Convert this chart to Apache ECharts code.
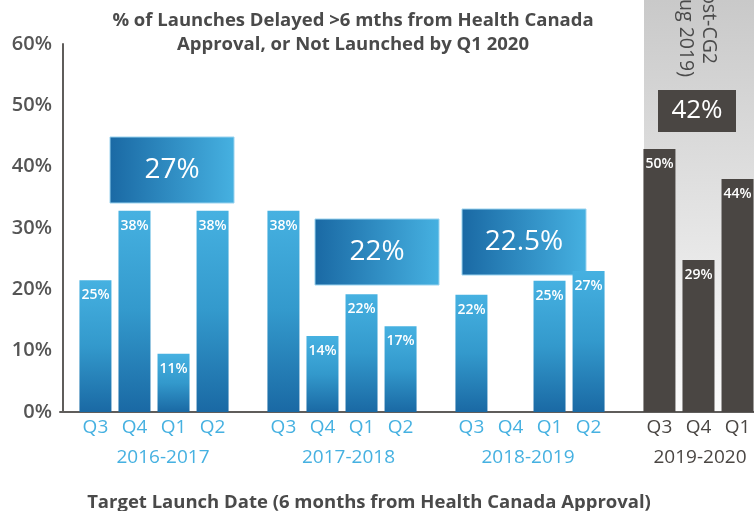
<!DOCTYPE html>
<html>
<head>
<meta charset="utf-8">
<script src="https://cdn.jsdelivr.net/npm/echarts@6/dist/echarts.min.js"></script>
<style>
  html, body { margin: 0; padding: 0; background: #fff; }
  #chart { width: 754px; height: 511px; }
</style>
</head>
<body>
<div id="chart"></div>
<script>
  // fiscal years (categories) and quarter slots inside each year
  const years = ['2016-2017', '2017-2018', '2018-2019', '2019-2020']
  const quarters = ['Q3', 'Q4', 'Q1', 'Q2']

  // bar heights as drawn (%), one array per quarter slot
  const q3Values = [21.5, 32.8, 19.1, 42.9]
  const q4Values = [32.8, 12.4, 0, 24.8]
  const q1Values = [9.5, 19.2, 21.4, 38.0]
  const q2Values = [32.8, 14.0, 23.0, null]

  // printed labels on the bars
  const q3Labels = ['25%', '38%', '22%', '50%']
  const q4Labels = ['38%', '14%', '', '29%']
  const q1Labels = ['11%', '22%', '25%', '44%']
  const q2Labels = ['38%', '17%', '27%', '']

  // average per year (boxes)
  const averages = ['27%', '22%', '22.5%', '42%']

  const yMin = 0
  const yMax = 60
  const yStep = 10

  const FONT = 'Open Sans'
  const BLUE_LIGHT = '#46b1e1'
  const BLUE_DARK = '#1a69a4'
  const DARK = '#4a4643'
  const TEXT = '#4a4a4a'

  const values = [q3Values, q4Values, q1Values, q2Values]
  const labels = [q3Labels, q4Labels, q1Labels, q2Labels]

  const barGradient = new echarts.graphic.LinearGradient(0, 0, 0, 1, [
    { offset: 0, color: BLUE_LIGHT },
    { offset: 0.5, color: '#3399cc' },
    { offset: 1, color: BLUE_DARK }
  ])
  const boxGradient = new echarts.graphic.LinearGradient(0, 0, 1, 0, [
    { offset: 0, color: BLUE_DARK },
    { offset: 1, color: BLUE_LIGHT }
  ])

  const series = []
  quarters.forEach((q, i) => {
    // zero-height helper carrying the quarter name under the axis
    series.push({
      type: 'bar',
      stack: 's' + i,
      barWidth: 32,
      barGap: '22%',
      silent: true,
      itemStyle: { color: 'transparent' },
      data: years.map((y, j) => {
        if (values[i][j] === null) return '-'
        return {
          value: 0,
          label: { color: j === 3 ? DARK : BLUE_LIGHT }
        }
      }),
      label: {
        show: true,
        position: 'bottom',
        distance: 6,
        formatter: () => q,
        fontFamily: FONT,
        fontSize: 19
      }
    })
    series.push({
      type: 'bar',
      stack: 's' + i,
      barWidth: 32,
      barGap: '22%',
      data: years.map((y, j) => {
        if (values[i][j] === null) return '-'
        return {
          value: values[i][j],
          itemStyle: { color: j === 3 ? DARK : barGradient }
        }
      }),
      label: {
        show: true,
        position: 'insideTop',
        distance: 8,
        color: '#fff',
        fontFamily: FONT,
        fontWeight: 600,
        fontSize: 14,
        formatter: (p) => labels[i][p.dataIndex]
      }
    })
  })

  function avgBox(x, y, w, h, text, dark) {
    return {
      type: 'group',
      x: x,
      y: y,
      z: 20,
      children: [
        {
          type: 'rect',
          shape: { x: 0, y: 0, width: w, height: h },
          style: dark
            ? { fill: DARK }
            : { fill: boxGradient, stroke: '#9ad3ef', lineWidth: 1 }
        },
        {
          type: 'text',
          x: w / 2,
          y: h / 2,
          style: {
            text: text,
            fill: '#fff',
            fontFamily: FONT,
            fontSize: dark ? 26 : 28,
            fontWeight: 500,
            align: 'center',
            verticalAlign: 'middle'
          }
        }
      ]
    }
  }

  // year labels sit a little off the category centres
  const yearRich = {
    y0: { padding: [0, 0, 0, 18] },
    y1: { padding: [0, 0, 0, 13] },
    y2: { padding: [0, 4, 0, 0] },
    y3: { padding: [0, 36, 0, 0], color: DARK }
  }

  const chart = echarts.init(document.getElementById('chart'))
  chart.setOption({
    animation: false,
    title: [
      {
        text: '% of Launches Delayed >6 mths from Health Canada\nApproval, or Not Launched by Q1 2020',
        left: 348,
        top: 4,
        textAlign: 'center',
        textStyle: {
          fontFamily: FONT,
          fontSize: 18.5,
          fontWeight: 'bold',
          color: TEXT,
          lineHeight: 24
        }
      },
      {
        text: 'Target Launch Date (6 months from Health Canada Approval)',
        left: 364,
        top: 488,
        textAlign: 'center',
        textStyle: {
          fontFamily: FONT,
          fontSize: 18.5,
          fontWeight: 'bold',
          color: TEXT
        }
      }
    ],
    grid: {
      left: 60,
      width: 752,
      top: 44,
      height: 368,
      outerBoundsMode: 'none'
    },
    xAxis: {
      type: 'category',
      data: years,
      axisLine: { lineStyle: { color: '#5f5d5b', width: 2 } },
      axisTick: { show: false },
      axisLabel: {
        margin: 36,
        fontFamily: FONT,
        fontSize: 19,
        color: BLUE_LIGHT,
        formatter: (v, idx) => '{y' + idx + '|' + v + '}',
        rich: yearRich
      }
    },
    yAxis: {
      type: 'value',
      min: yMin,
      max: yMax,
      interval: yStep,
      offset: -3,
      splitLine: { show: false },
      axisTick: { show: false },
      axisLine: { show: true, lineStyle: { color: '#5f5d5b', width: 2 } },
      axisLabel: {
        margin: 11,
        padding: [8, 0, 0, 0],
        formatter: '{value}%',
        fontFamily: FONT,
        fontSize: 20,
        fontWeight: 600,
        color: '#555'
      }
    },
    series: series,
    graphic: [
      {
        type: 'rect',
        z: -10,
        shape: { x: 644, y: 0, width: 110, height: 411 },
        style: {
          fill: new echarts.graphic.LinearGradient(0, 0, 0, 1, [
            { offset: 0, color: '#c9c9c9' },
            { offset: 1, color: '#fbfbfb' }
          ])
        }
      },
      {
        type: 'text',
        x: 709,
        y: 64,
        rotation: -Math.PI / 2,
        style: {
          text: '(Post-CG2',
          fill: TEXT,
          fontFamily: FONT,
          fontSize: 19.5,
          align: 'right',
          verticalAlign: 'middle'
        }
      },
      {
        type: 'text',
        x: 686,
        y: 77,
        rotation: -Math.PI / 2,
        style: {
          text: 'Aug 2019)',
          fill: TEXT,
          fontFamily: FONT,
          fontSize: 19.5,
          align: 'right',
          verticalAlign: 'middle'
        }
      },
      avgBox(110, 137, 124, 66, averages[0], false),
      avgBox(315, 219, 124, 66, averages[1], false),
      avgBox(462, 209, 124, 66, averages[2], false),
      avgBox(658, 90, 78, 42, averages[3], true)
    ]
  })
</script>
</body>
</html>
